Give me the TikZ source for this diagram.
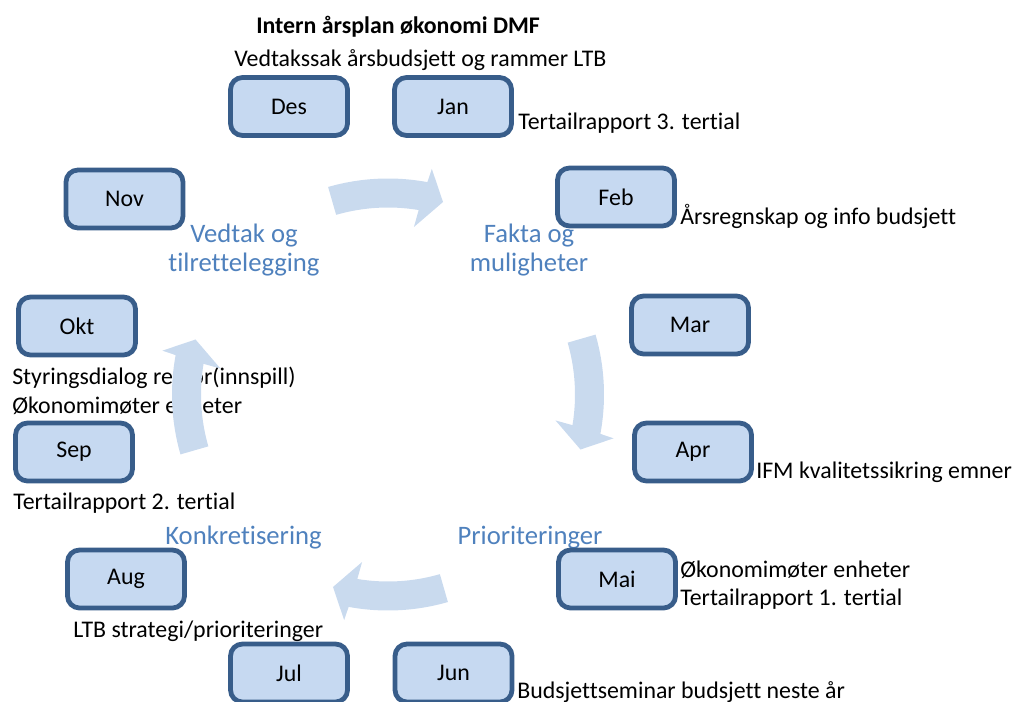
\documentclass[tikz,border=0pt]{standalone}
\usepackage{fontspec}
\setmainfont{Carlito}[Ligatures={NoCommon}]
\definecolor{boxfill}{HTML}{C6D9F1}
\definecolor{boxdraw}{HTML}{385D8A}
\definecolor{phaseblue}{HTML}{4F81BD}
\definecolor{arrowfill}{HTML}{C9DAEE}
\newcommand\bodyfont{\fontsize{17.9}{20}\selectfont}
\newcommand\phasefont{\fontsize{20}{22}\selectfont}
\newcommand\cycarrow[1]{%
  \fill[cyc, shift={(388,394.5)}, yscale=-1, rotate=#1]
    (106.1:216) arc[start angle=106.1, end angle=79.5, radius=216]
    -- (79:229.8) -- (74.05:200.2) -- (81.2:169.5) -- (80.56:187)
    arc[start angle=80.56, end angle=106.1, radius=187] -- cycle;}
\begin{document}
\begin{tikzpicture}[x=0.75pt,y=-0.75pt,
  month/.style={draw=boxdraw, fill=boxfill, line width=3.6pt, rounded corners=9pt,
    minimum width=87.75pt, minimum height=43.5pt, inner sep=0pt, font=\bodyfont},
  note/.style={anchor=base west, inner sep=0pt, font=\bodyfont},
  phase/.style={anchor=base, inner sep=0pt, font=\phasefont, text=phaseblue},
  cyc/.style={fill=arrowfill, draw=none}]
\useasboundingbox (0,0) rectangle (1016,702);

% title and notes
\node[note, font=\bodyfont\bfseries] (title) at (256,34) {Intern årsplan økonomi DMF};
\node[note] (nDes) at (234,67) {Vedtakssak årsbudsjett og rammer LTB};
\node[note] (nJan) at (518,130) {Tertailrapport 3. tertial};
\node[note] (nFeb) at (680,224) {Årsregnskap og info budsjett};
\node[note] (nApr) at (756,478) {IFM kvalitetssikring emner};
\node[note] (nMai1) at (680,577) {Økonomimøter enheter};
\node[note] (nMai2) at (680,605) {Tertailrapport 1. tertial};
\node[note] (nJun) at (517,698) {Budsjettseminar budsjett neste år};
\node[note] (nAug) at (73,637) {LTB strategi/prioriteringer};
\node[note] (nSep) at (13,509) {Tertailrapport 2. tertial};
\node[note] (nOkt1) at (12,384) {Styringsdialog rektor(innspill)};
\node[note] (nOkt2) at (12,413) {Økonomimøter enheter};

% phase labels
\node[phase] (p1a) at (244,243) {Vedtak og};
\node[phase] (p1b) at (244,271) {tilrettelegging};
\node[phase] (p2a) at (529,243) {Fakta og};
\node[phase] (p2b) at (529,272) {muligheter};
\node[phase] (p3) at (530,544) {Prioriteringer};
\node[phase] (p4) at (243.5,544) {Konkretisering};

% cycle arrows
\cycarrow{0}
\cycarrow{-90}
\cycarrow{-180}
\cycarrow{-270}

% month boxes
\node[month] (des) at (289,106.5) {Des};
\node[month] (jan) at (453,106.5) {Jan};
\node[month] (feb) at (616,197) {Feb};
\node[month] (mar) at (690,325) {Mar};
\node[month] (apr) at (693,452) {Apr};
\node[month] (mai) at (617,579) {Mai};
\node[month] (jun) at (453.5,673) {Jun};
\node[month] (jul) at (289,673) {Jul};
\node[month] (aug) at (126,579) {Aug};
\node[month] (sep) at (74,452) {Sep};
\node[month] (okt) at (77,326) {Okt};
\node[month] (nov) at (124.5,199) {Nov};
\end{tikzpicture}
\end{document}
